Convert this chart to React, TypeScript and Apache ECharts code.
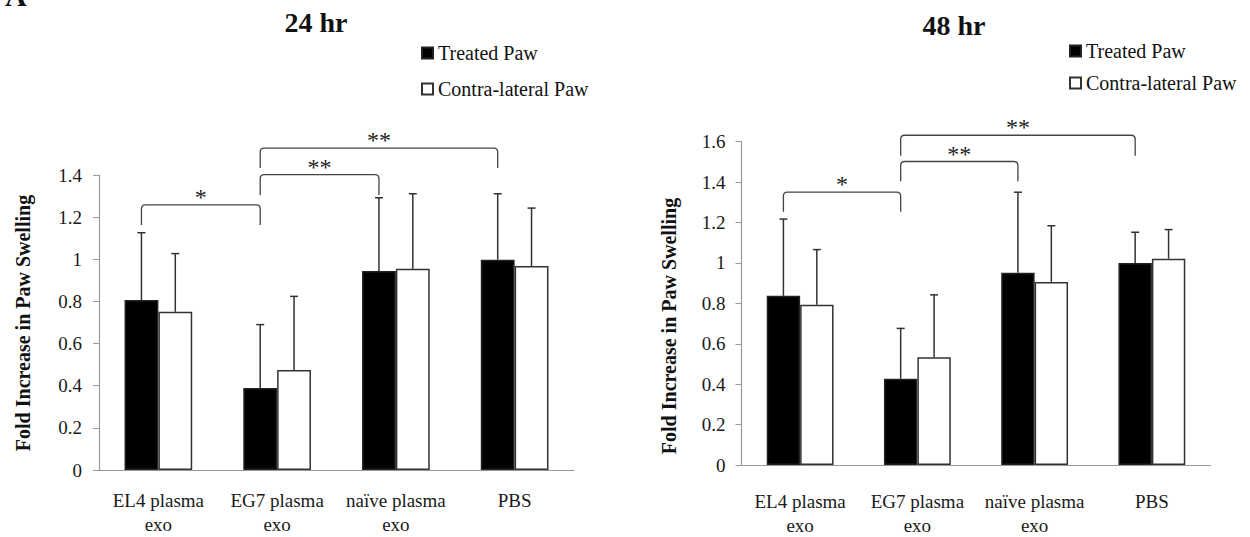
import { useEffect, useRef } from "react";
import * as echarts from "echarts";

const categories = ["EL4 plasma\nexo", "EG7 plasma\nexo", "naïve plasma\nexo", "PBS"];
const seriesNames = ["Treated Paw", "Contra-lateral Paw"];

// 24 hr
const treated24 = [0.807, 0.389, 0.944, 0.998];
const treated24Sd = [0.319, 0.301, 0.348, 0.313];
const contra24 = [0.751, 0.475, 0.955, 0.968];
const contra24Sd = [0.276, 0.349, 0.356, 0.275];

// 48 hr
const treated48 = [0.837, 0.427, 0.951, 1.0];
const treated48Sd = [0.38, 0.249, 0.399, 0.152];
const contra48 = [0.793, 0.533, 0.906, 1.021];
const contra48Sd = [0.273, 0.309, 0.278, 0.144];

// significance brackets: [fromCategory, toCategory, topValue, bottomValue]
const brackets24 = [
  [0, 1, 1.258, 1.163],
  [1, 2, 1.402, 1.305],
  [1, 3, 1.528, 1.433],
];
const bracketLabels24 = ["*", "**", "**"];
const brackets48 = [
  [0, 1, 1.35, 1.253],
  [1, 2, 1.502, 1.404],
  [1, 3, 1.632, 1.53],
];
const bracketLabels48 = ["*", "**", "**"];

const SERIF = "'Liberation Serif', 'Times New Roman', serif";
const HALF_BAR = 0.1425; // fraction of category band from center to a bar's center

function errData(mean: number[], sd: number[], side: number) {
  return mean.map((m, i) => [i, side, m, m + sd[i]]);
}

const errRender = (_params: any, api: any) => {
  const cat = api.value(0);
  const side = api.value(1);
  const mean = api.value(2);
  const upper = api.value(3);
  const band = api.size([1, 0])[0];
  const base = api.coord([cat, mean]);
  const top = api.coord([cat, upper]);
  const x = base[0] + (side === 0 ? -1 : 1) * band * HALF_BAR;
  const cap = 4;
  const st = { stroke: "#333", lineWidth: 1.5 };
  return {
    type: "group",
    children: [
      { type: "line", shape: { x1: x, y1: base[1], x2: x, y2: top[1] }, style: st },
      { type: "line", shape: { x1: x - cap, y1: top[1], x2: x + cap, y2: top[1] }, style: st },
    ],
  };
};

const makeBracketRender = (labels: string[]) => (params: any, api: any) => {
  const from = api.value(0);
  const to = api.value(1);
  const topV = api.value(2);
  const botV = api.value(3);
  const band = api.size([1, 0])[0];
  const off = -band * HALF_BAR;
  const p1 = api.coord([from, topV]);
  const p2 = api.coord([to, topV]);
  const yb = api.coord([from, botV])[1];
  const x1 = p1[0] + off;
  const x2 = p2[0] + off;
  const yt = p1[1];
  const r = 4;
  const d = `M${x1} ${yb} L${x1} ${yt + r} Q${x1} ${yt} ${x1 + r} ${yt} L${x2 - r} ${yt} Q${x2} ${yt} ${x2} ${yt + r} L${x2} ${yb}`;
  return {
    type: "group",
    children: [
      { type: "path", shape: { pathData: d }, style: { stroke: "#444", fill: "none", lineWidth: 1.3 } },
      {
        type: "text",
        x: (x1 + x2) / 2,
        y: yt - 8,
        style: {
          text: labels[params.dataIndex],
          fontSize: 24,
          fontFamily: SERIF,
          fill: "#222",
          align: "center",
          verticalAlign: "middle",
        },
      },
    ],
  };
};

function barSeries(name: string, data: number[], idx: number) {
  const treated = name === seriesNames[0];
  return {
    type: "bar",
    name,
    xAxisIndex: idx,
    yAxisIndex: idx,
    data,
    barGap: "0%",
    barCategoryGap: "43%",
    itemStyle: {
      color: treated ? "#000" : "#fff",
      borderColor: treated ? "#222" : "#333",
      borderWidth: 1.5,
    },
  };
}

function xAxis(idx: number, margin: number) {
  return {
    type: "category",
    gridIndex: idx,
    data: categories,
    axisLine: { lineStyle: { color: "#999", width: 1.2 } },
    axisTick: { show: false },
    axisLabel: {
      interval: 0,
      margin,
      fontSize: 19,
      lineHeight: 24,
      fontFamily: SERIF,
      color: "#1a1a1a",
    },
  };
}

function yAxis(idx: number, max: number, margin: number) {
  return {
    type: "value",
    gridIndex: idx,
    min: 0,
    max,
    interval: 0.2,
    splitLine: { show: false },
    axisLine: { show: true, lineStyle: { color: "#999", width: 1.2 } },
    axisTick: { show: true, length: 6, lineStyle: { color: "#999" } },
    axisLabel: { margin, fontSize: 19, fontFamily: SERIF, color: "#1a1a1a" },
  };
}

function legend(left: number, top: number, gap: number) {
  return {
    left,
    top,
    orient: "vertical",
    icon: "rect",
    itemWidth: 11,
    itemHeight: 11,
    itemGap: gap,
    textStyle: { fontSize: 20, lineHeight: 20, fontFamily: SERIF, color: "#111" },
    data: seriesNames,
  };
}

export default function App() {
  const ref = useRef<HTMLDivElement>(null);
  useEffect(() => {
    if (!ref.current) return;
    const chart = echarts.init(ref.current, undefined, { renderer: "svg" });
    chart.setOption({
      animation: false,
      backgroundColor: "#fff",
      legend: [legend(416, 38, 16), legend(1064, 36, 12)],
      grid: [
        { left: 99, top: 175, width: 475, height: 295 },
        { left: 741.5, top: 141.7, width: 469, height: 327.3 },
      ],
      xAxis: [xAxis(0, 18), xAxis(1, 24)],
      yAxis: [yAxis(0, 1.4, 17), yAxis(1, 1.6, 16)],
      graphic: [
        {
          type: "text",
          x: 5,
          y: 10.5,
          style: { text: "A", fontSize: 30, fontWeight: "bold", fontFamily: SERIF, fill: "#111", align: "left", verticalAlign: "bottom" },
        },
        {
          type: "text",
          x: 316,
          y: 22,
          style: { text: "24 hr", fontSize: 28, fontWeight: "bold", fontFamily: SERIF, fill: "#111", align: "center", verticalAlign: "middle" },
        },
        {
          type: "text",
          x: 954,
          y: 25,
          style: { text: "48 hr", fontSize: 28, fontWeight: "bold", fontFamily: SERIF, fill: "#111", align: "center", verticalAlign: "middle" },
        },
        {
          type: "text",
          x: 23,
          y: 323,
          rotation: Math.PI / 2,
          style: { text: "Fold Increase in Paw Swelling", fontSize: 20, fontWeight: "bold", fontFamily: SERIF, fill: "#111", align: "center", verticalAlign: "middle" },
        },
        {
          type: "text",
          x: 669,
          y: 326,
          rotation: Math.PI / 2,
          style: { text: "Fold Increase in Paw Swelling", fontSize: 20, fontWeight: "bold", fontFamily: SERIF, fill: "#111", align: "center", verticalAlign: "middle" },
        },
      ],
      series: [
        barSeries(seriesNames[0], treated24, 0),
        barSeries(seriesNames[1], contra24, 0),
        barSeries(seriesNames[0], treated48, 1),
        barSeries(seriesNames[1], contra48, 1),
        {
          type: "custom",
          xAxisIndex: 0,
          yAxisIndex: 0,
          z: 5,
          clip: false,
          renderItem: errRender,
          encode: { x: 0, y: 2 },
          data: [...errData(treated24, treated24Sd, 0), ...errData(contra24, contra24Sd, 1)],
        },
        {
          type: "custom",
          xAxisIndex: 1,
          yAxisIndex: 1,
          z: 5,
          clip: false,
          renderItem: errRender,
          encode: { x: 0, y: 2 },
          data: [...errData(treated48, treated48Sd, 0), ...errData(contra48, contra48Sd, 1)],
        },
        {
          type: "custom",
          xAxisIndex: 0,
          yAxisIndex: 0,
          z: 5,
          clip: false,
          renderItem: makeBracketRender(bracketLabels24),
          encode: { x: 0, y: 2 },
          data: brackets24,
        },
        {
          type: "custom",
          xAxisIndex: 1,
          yAxisIndex: 1,
          z: 5,
          clip: false,
          renderItem: makeBracketRender(bracketLabels48),
          encode: { x: 0, y: 2 },
          data: brackets48,
        },
      ],
    });
    return () => chart.dispose();
  }, []);
  return (
    <div
      ref={ref}
      style={{ position: "fixed", left: 0, top: 0, width: 1250, height: 537, background: "#fff" }}
    />
  );
}
